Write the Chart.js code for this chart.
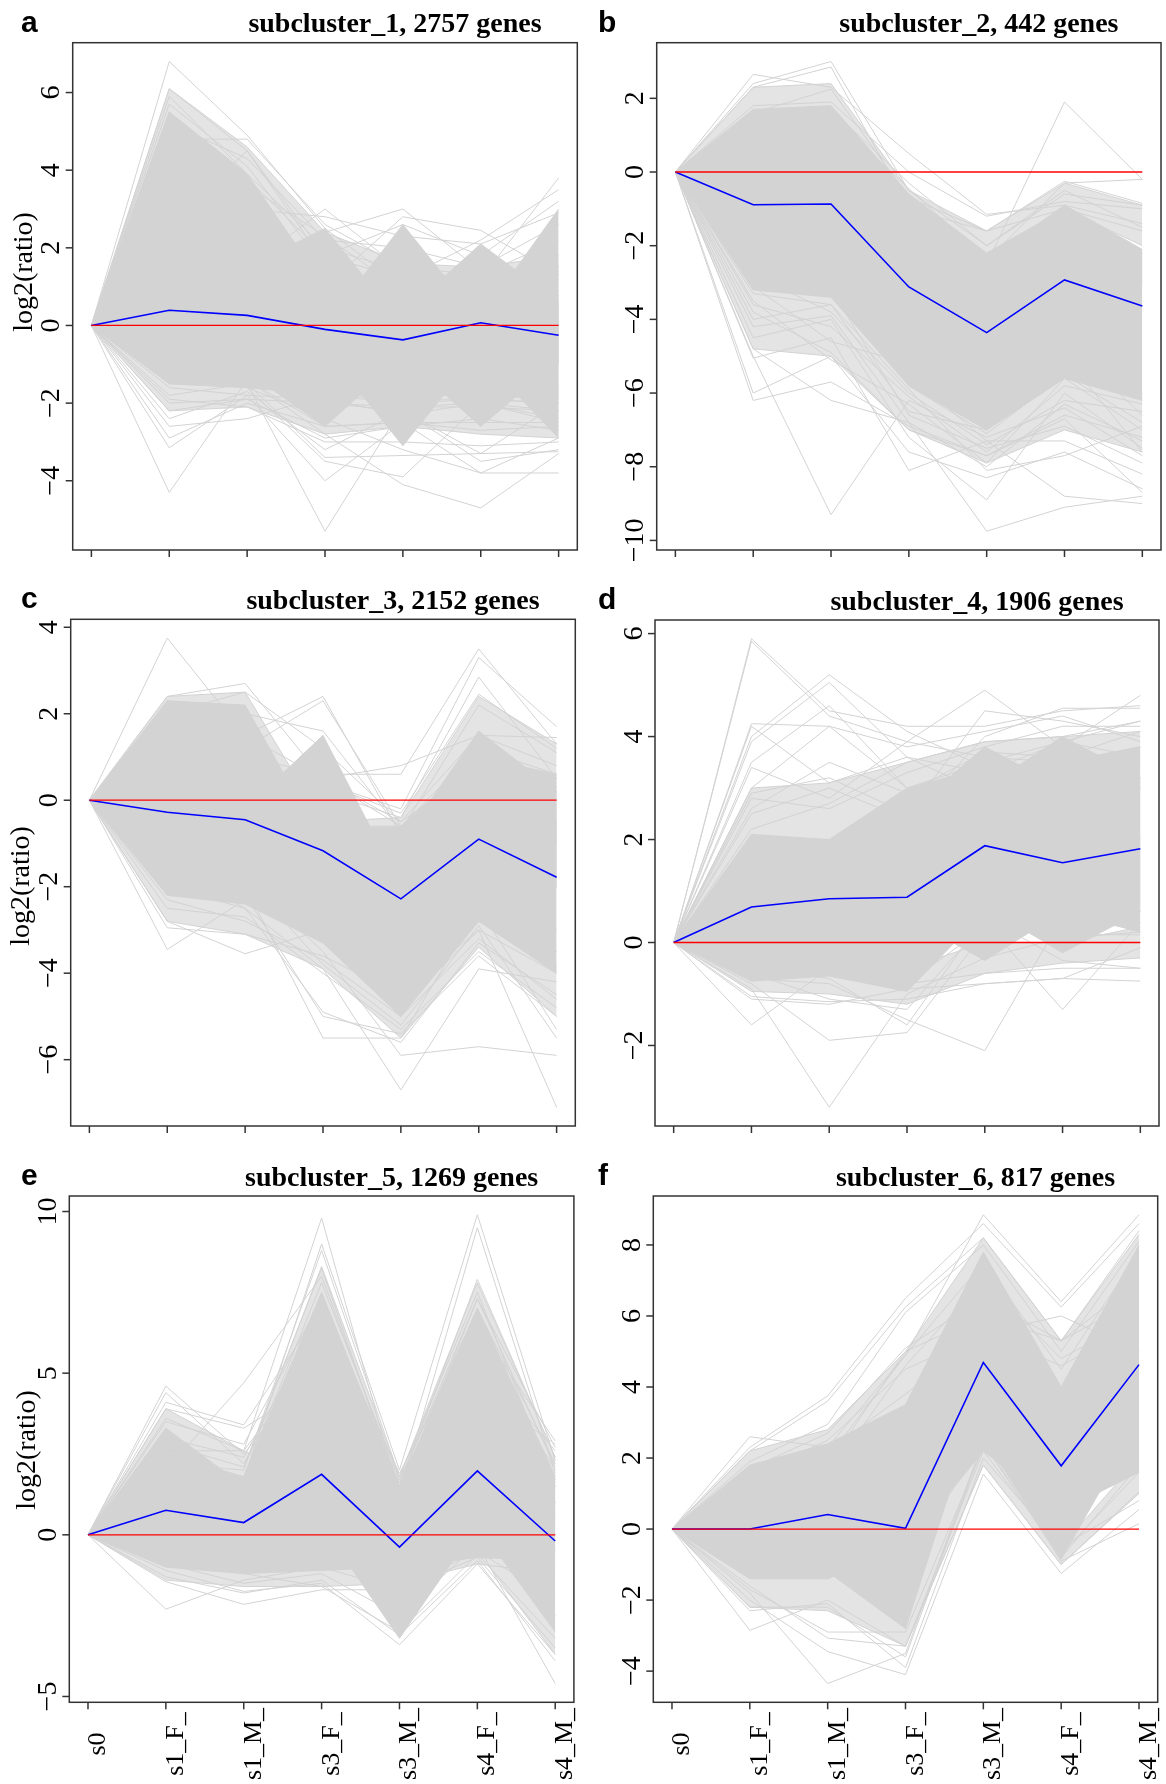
<!DOCTYPE html>
<html>
<head>
<meta charset="utf-8">
<script src="https://cdn.jsdelivr.net/npm/chart.js@4.4.1/dist/chart.umd.min.js"></script>
<style>
  body { margin: 0; background: #fff; width: 1166px; height: 1784px; position: relative; overflow: hidden; }
  canvas { position: absolute; }
</style>
</head>
<body>
<script>
// time points on the x axis
const stages = ['s0', 's1_F_', 's1_M_', 's3_F_', 's3_M_', 's4_F_', 's4_M_'];
const zeroLine = [0, 0, 0, 0, 0, 0, 0];
const titles = [
  'subcluster_1, 2757 genes', 'subcluster_2, 442 genes', 'subcluster_3, 2152 genes',
  'subcluster_4, 1906 genes', 'subcluster_5, 1269 genes', 'subcluster_6, 817 genes'
];

// --- subcluster 1 ---
const meanA = [0, 0.39, 0.26, -0.10, -0.37, 0.07, -0.25];
// solid bundles of genes: [upper edge, lower edge]
const bandsA = [
  [[0, 5.5, 3.9, 1.0, 0.6, 0.6, 0.8], [0, -1.5, -1.6, -1.8, -1.8, -1.8, -1.9]],
  [[0, 1.0, 1.5, 2.5, 0.0, 0.5, 0.5], [0, -1.0, -1.2, -2.6, -0.8, -1.0, -1.0]],
  [[0, 1.0, 1.0, 0.0, 2.6, 0.1, 0.5], [0, -1.0, -1.0, -0.6, -3.1, -0.6, -1.0]],
  [[0, 0.8, 0.8, 0.5, 0.3, 2.1, 0.6], [0, -1.0, -1.0, -1.0, -0.8, -2.6, -0.9]],
  [[0, 0.8, 0.8, 0.6, 0.6, 0.2, 3.0], [0, -1.0, -1.0, -1.0, -1.0, -0.8, -2.9]]
];
// looser zones where single lines still leave gaps
const looseA = [
  [[0, 6.1, 4.6, 2.4, 1.6, 1.5, 1.8], [0, 4.0, 3.0, 1.0, 0.5, 0.5, 0.5]],
  [[0, -1.0, -1.0, -1.5, -1.5, -1.5, -1.5], [0, -2.2, -2.1, -2.8, -2.6, -2.8, -2.9]]
];
// single genes sticking out of the bundle
const linesA = [
  [0, 6.8, 4.9, 2.5, 1.0, 1.2, 1.5],
  [0, 6.1, 4.5, 1.8, 1.2, 1.1, 1.2],
  [0, 5.9, 3.9, 2.0, 1.4, 1.0, 1.3],
  [0, 5.7, 4.1, 1.5, 1.0, 0.9, 1.0],
  [0, 5.5, 3.6, 2.3, 0.9, 1.3, 1.1],
  [0, 5.2, 4.3, 2.2, 2.0, 1.5, 2.6],
  [0, 5.0, 3.0, 2.8, 2.3, 2.1, 2.9],
  [0, 4.5, 3.8, 1.8, 2.6, 1.8, 3.2],
  [0, 2.6, 4.5, 1.6, 0.8, 0.7, 0.9],
  [0, 4.8, 4.8, 2.6, 1.5, 1.3, 2.2],
  [0, 1.5, 1.5, 3.0, 1.4, 1.2, 1.5],
  [0, 1.0, 1.2, 2.4, 3.0, 1.4, 1.4],
  [0, 0.8, 0.8, 1.0, 2.8, 2.45, 1.3],
  [0, 1.0, 0.9, 0.8, 1.0, 1.2, 3.8],
  [0, 0.6, 0.7, 0.8, 1.2, 2.2, 3.5],
  [0, -4.3, -1.4, -1.8, -2.0, -1.9, -2.0],
  [0, -3.15, -1.8, -1.9, -2.3, -2.0, -2.4],
  [0, -2.9, -2.0, -2.6, -2.5, -2.7, -2.6],
  [0, -2.6, -2.4, -1.8, -1.9, -1.9, -2.0],
  [0, -2.2, -1.9, -2.0, -2.1, -2.1, -2.2],
  [0, -2.0, -1.9, -2.9, -2.6, -2.4, -2.7],
  [0, -1.9, -2.1, -3.0, -3.0, -3.1, -3.0],
  [0, -2.4, -1.7, -3.2, -2.2, -3.3, -2.0],
  [0, -1.8, -1.5, -5.3, -2.1, -2.0, -2.2],
  [0, -1.6, -1.8, -4.0, -2.5, -3.8, -2.9],
  [0, -1.5, -1.6, -3.5, -3.9, -2.0, -2.5],
  [0, -1.3, -1.4, -2.8, -4.1, -4.7, -3.3],
  [0, -1.5, -1.5, -3.4, -3.35, -3.3, -3.25],
  [0, -1.2, -1.4, -2.6, -2.5, -2.5, -2.5],
  [0, -1.4, -1.6, -2.4, -3.2, -3.8, -3.8],
  [0, -1.2, -1.3, -2.0, -2.2, -3.5, -3.2]
];
const ticksA = [-4, -2, 0, 2, 4, 6];

// --- subcluster 2 ---
const meanB = [0, -0.89, -0.87, -3.12, -4.36, -2.93, -3.64];
const bandsB = [
  [[0, 1.0, 1.3, -0.8, -2.4, -0.9, -2.1], [0, -3.2, -3.4, -5.8, -7.0, -5.6, -6.2]],
  [[0, 1.7, 1.8, -0.6, -2.2, -1.0, -2.2], [0, 0.2, 0.2, -1.2, -3.0, -2.0, -3.0]]
];
const looseB = [
  [[0, 2.3, 2.4, -0.5, -1.6, -0.3, -0.9], [0, 1.0, 1.2, -1.0, -2.4, -1.0, -2.0]],
  [[0, -3.1, -3.3, -5.7, -6.9, -5.5, -6.0], [0, -4.8, -5.0, -7.0, -7.9, -7.0, -7.6]]
];
const linesB = [
  [0, 2.65, 2.3, 0.5, -1.15, -0.9, -1.4],
  [0, 2.4, 3.0, -0.5, -2.0, -0.5, -1.5],
  [0, 2.3, 2.85, -1.0, -2.6, -1.2, -2.5],
  [0, 1.6, 2.25, -0.7, -1.6, -0.25, -0.85],
  [0, 1.3, 1.5, -0.45, -2.4, -0.3, -0.2],
  [0, 0.8, 1.0, -1.2, -2.5, 1.9, -0.2],
  [0, 1.2, 0.5, -1.0, -1.6, -1.0, -1.6],
  [0, 1.8, 1.9, 0.0, -1.2, -0.8, -1.0],
  [0, 1.5, 1.7, -0.3, -2.0, -0.6, -0.9],
  [0, -6.2, -5.7, -6.9, -7.7, -6.6, -7.2],
  [0, -6.0, -5.0, -7.6, -8.3, -7.6, -8.6],
  [0, -5.0, -9.3, -6.2, -7.2, -6.4, -7.7],
  [0, -5.05, -4.5, -8.1, -7.3, -8.8, -9.0],
  [0, -4.8, -6.2, -6.8, -9.75, -9.1, -8.8],
  [0, -4.5, -4.0, -7.2, -8.9, -6.0, -7.5],
  [0, -4.0, -3.6, -5.9, -8.1, -7.7, -6.9],
  [0, -3.8, -4.9, -7.0, -7.7, -6.7, -8.7],
  [0, -3.5, -5.1, -6.3, -7.9, -5.6, -7.0],
  [0, -2.8, -3.8, -6.0, -7.4, -6.2, -6.5],
  [0, -3.3, -3.6, -6.5, -7.0, -5.0, -7.6],
  [0, -3.6, -4.2, -6.1, -7.6, -5.8, -6.3],
  [0, -2.5, -3.0, -5.8, -7.1, -5.5, -6.8],
  [0, -3.0, -3.2, -6.6, -7.5, -6.9, -7.9],
  [0, -2.7, -2.9, -5.5, -7.3, -7.3, -8.2],
  [0, -4.2, -3.9, -6.8, -8.0, -6.3, -7.3],
  [0, -3.1, -4.6, -5.2, -6.5, -4.6, -6.6]
];
const ticksB = [-10, -8, -6, -4, -2, 0, 2];

// --- subcluster 3 ---
const meanC = [0, -0.28, -0.45, -1.17, -2.28, -0.9, -1.78];
const bandsC = [
  [[0, 1.4, 1.5, -0.6, -0.6, 1.0, 0.6], [0, -2.2, -2.4, -3.3, -5.0, -2.8, -4.0]],
  [[0, 2.3, 2.2, -1.0, -1.2, 0.5, 0.3], [0, 0, 0, -1.5, -2.0, -1.0, -1.0]],
  [[0, 0.5, -0.2, 1.5, -2.0, -0.5, -0.5], [0, -1.5, -1.5, -2.0, -3.0, -2.0, -2.0]],
  [[0, -0.5, -0.5, -0.8, -1.0, 1.6, 0.2], [0, -1.5, -1.5, -2.0, -2.5, -1.5, -2.0]]
];
const looseC = [
  [[0, 2.4, 2.5, -0.5, -0.4, 2.4, 1.3], [0, 1.0, 1.0, -0.8, -0.8, 0.5, 0.3]],
  [[0, -2.0, -2.2, -3.2, -4.8, -2.8, -3.8], [0, -2.8, -3.1, -3.9, -5.5, -3.4, -5.0]]
];
const linesC = [
  [0, 3.75, 1.5, 0.5, -0.5, 0.8, 0.3],
  [0, 2.4, 2.7, 0.5, -0.6, 1.0, 0.5],
  [0, 2.0, 2.5, 1.2, -0.5, 1.5, 0.8],
  [0, 2.2, 2.0, 1.6, -0.7, 2.2, 1.1],
  [0, 1.0, 1.5, 2.4, -0.8, 0.9, 0.4],
  [0, 0.8, 1.2, 2.3, -0.6, 1.2, 0.6],
  [0, 0.5, 0.7, 0.5, 0.8, 1.5, 1.45],
  [0, 0.8, 1.0, 0.6, 0.6, 3.5, 1.3],
  [0, 0.5, 0.5, 0.4, -0.2, 3.3, 1.7],
  [0, 0.3, 0.5, 0.2, -0.4, 2.85, 0.5],
  [0, 0.6, 0.8, 0.4, -0.3, 2.45, 1.2],
  [0, -3.45, -2.3, -3.0, -4.0, -2.5, -3.0],
  [0, -2.95, -3.1, -3.6, -4.5, -2.8, -3.5],
  [0, -2.8, -3.55, -3.0, -4.8, -3.0, -4.0],
  [0, -2.5, -2.7, -4.0, -5.3, -3.5, -4.8],
  [0, -2.3, -2.8, -3.7, -5.0, -3.2, -4.6],
  [0, -2.0, -2.5, -4.9, -5.6, -3.3, -4.5],
  [0, -1.8, -2.2, -5.0, -5.4, -3.6, -5.0],
  [0, -1.5, -2.0, -5.5, -5.5, -2.5, -5.3],
  [0, -1.5, -2.5, -3.9, -6.7, -3.9, -4.2],
  [0, -1.2, -1.8, -3.5, -5.9, -5.7, -5.9],
  [0, -1.0, -1.5, -3.0, -4.5, -3.0, -7.1],
  [0, -1.3, -1.8, -3.8, -5.2, -2.9, -5.5]
];
const ticksC = [-6, -4, -2, 0, 2, 4];

// --- subcluster 4 ---
const meanD = [0, 0.69, 0.85, 0.88, 1.88, 1.55, 1.82];
const bandsD = [
  [[0, 2.1, 2.0, 3.0, 3.4, 3.5, 3.8], [0, -0.5, -0.4, -0.5, 0.5, 0.6, 0.2]],
  [[0, 1.0, 1.0, 1.0, 2.0, 2.0, 2.0], [0, -0.75, -0.65, -0.95, 0.6, 0.8, 0.8]],
  [[0, 1.5, 1.5, 2.5, 3.8, 3.0, 3.2], [0, 0.3, 0.3, 0.5, -0.35, 0.6, 0.6]],
  [[0, 1.5, 1.5, 2.5, 3.0, 4.0, 3.2], [0, 0.3, 0.3, 0.5, 0.7, -0.2, 0.6]]
];
const looseD = [
  [[0, 3.0, 3.1, 3.5, 3.9, 4.0, 4.1], [0, 1.8, 1.8, 2.5, 3.0, 3.0, 3.0]],
  [[0, -0.3, -0.3, -0.5, 0.0, 0.0, 0.3], [0, -0.95, -1.0, -1.2, -0.6, -0.4, -0.3]]
];
const linesD = [
  [0, 5.9, 4.5, 4.2, 4.2, 4.5, 4.6],
  [0, 5.85, 4.4, 3.9, 3.6, 3.5, 3.8],
  [0, 4.25, 4.2, 3.0, 2.5, 3.0, 3.2],
  [0, 4.0, 5.2, 4.1, 3.4, 3.2, 3.5],
  [0, 3.9, 5.05, 3.6, 2.9, 3.3, 3.0],
  [0, 3.5, 4.6, 3.0, 3.5, 3.9, 4.3],
  [0, 3.4, 2.8, 3.9, 4.9, 3.8, 4.8],
  [0, 2.9, 3.2, 2.5, 4.5, 4.3, 4.0],
  [0, 2.5, 3.0, 2.4, 4.0, 4.55, 4.55],
  [0, 2.2, 2.7, 3.5, 3.9, 4.0, 4.3],
  [0, 2.8, 2.6, 3.3, 3.8, 4.2, 4.2],
  [0, 2.6, 3.5, 2.9, 3.7, 3.6, 4.1],
  [0, 4.2, 3.1, 3.6, 3.3, 3.9, 3.6],
  [0, 3.0, 4.2, 3.8, 4.1, 4.4, 3.9],
  [0, -1.6, -0.5, -0.8, -0.6, -0.5, -0.5],
  [0, -1.1, -1.2, -0.9, -0.8, -0.7, -0.75],
  [0, -0.9, -3.2, -1.0, -0.3, 0.1, 0.2],
  [0, -0.8, -1.9, -1.75, 0.2, 0.5, 0.5],
  [0, -0.7, -0.8, -1.5, -2.1, 0.5, 0.6],
  [0, -0.6, -1.1, -1.3, 0.4, -1.3, 0.4],
  [0, -0.5, -0.7, -1.6, 0.5, -0.35, -0.5],
  [0, -0.4, -0.5, -0.8, 0.3, 0.15, 0.15],
  [0, -1.05, -1.15, -1.1, -0.8, -0.7, -0.1]
];
const ticksD = [-2, 0, 2, 4, 6];

// --- subcluster 5 ---
const meanE = [0, 0.76, 0.38, 1.87, -0.38, 1.98, -0.19];
const bandsE = [
  [[0, 2.5, 1.8, 6.0, 1.4, 6.3, 1.6], [0, -1.0, -1.2, -1.1, -1.0, -0.7, -0.8]],
  [[0, 3.3, 1.5, 4.0, 1.0, 4.0, 1.0], [0, 0, 0, 0, 0, 0, 0]],
  [[0, 1.5, 1.8, 7.5, 1.5, 7.0, 1.8], [0, 0.5, 0.5, 3.0, 0.5, 3.0, 0.5]],
  [[0, 1.0, 1.0, 2.0, 1.0, 2.0, 1.0], [0, -0.5, -0.5, 0.3, -3.2, 0.3, -0.5]],
  [[0, 1.0, 1.0, 1.0, 1.0, 2.0, 1.8], [0, -0.5, -0.5, -0.5, -0.5, 0.3, -3.0]]
];
const looseE = [
  [[0, 3.9, 2.6, 1.5, 1.0, 1.5, 1.0], [0, 2.5, 1.5, 0.5, 0.5, 0.5, 0.5]],
  [[0, 1.5, 2.0, 8.3, 1.8, 7.8, 2.4], [0, 1.0, 1.0, 6.0, 1.0, 6.0, 1.0]],
  [[0, -0.5, -0.5, -0.5, -0.5, -0.5, -0.5], [0, -1.4, -1.6, -1.6, -1.5, -0.9, -1.2]],
  [[0, -0.5, -0.5, -0.5, -0.5, 0.0, -2.5], [0, -0.8, -0.8, -0.8, -0.8, -0.5, -3.7]]
];
const linesE = [
  [0, 4.6, 2.5, 5.5, 1.2, 5.0, 1.5],
  [0, 4.4, 2.2, 6.5, 1.5, 6.0, 2.0],
  [0, 4.1, 3.4, 7.0, 1.9, 6.5, 2.9],
  [0, 3.9, 3.3, 4.8, 1.6, 4.5, 2.8],
  [0, 3.6, 2.6, 5.8, 1.8, 5.5, 2.6],
  [0, 3.0, 2.4, 6.8, 1.6, 7.3, 2.1],
  [0, 3.5, 2.8, 7.3, 1.4, 6.8, 1.7],
  [0, 2.0, 4.7, 8.0, 1.5, 7.9, 2.4],
  [0, 2.6, 2.6, 9.8, 1.2, 9.5, 1.9],
  [0, 1.8, 1.7, 9.0, 2.0, 9.9, 2.3],
  [0, 2.2, 2.0, 8.8, 1.8, 7.5, 1.5],
  [0, 2.8, 2.1, 8.25, 1.3, 7.3, 2.7],
  [0, 1.5, 1.8, 7.8, 1.7, 7.0, 2.2],
  [0, -2.3, -1.4, -1.0, -1.7, -0.5, -2.0],
  [0, -1.45, -2.15, -1.7, -1.7, -0.7, -3.5],
  [0, -1.1, -1.75, -1.5, -3.4, -0.9, -3.7],
  [0, -1.3, -1.8, -1.4, -3.1, -0.8, -3.9],
  [0, -0.9, -1.5, -1.2, -2.5, -0.3, -4.6],
  [0, -0.8, -1.2, -1.6, -3.0, -0.6, -3.2]
];
const ticksE = [-5, 0, 5, 10];

// --- subcluster 6 ---
const meanF = [0, 0.0, 0.41, 0.02, 4.69, 1.78, 4.63];
const bandsF = [
  [[0, 1.5, 2.0, 2.5, 7.0, 3.5, 7.5], [0, -1.4, -1.4, -0.5, 2.2, 0.5, 1.6]],
  [[0, 1.8, 2.4, 3.5, 7.8, 4.0, 8.0], [0, 0.5, 1.0, 1.5, 4.5, 2.5, 4.5]],
  [[0, 0, 0, -0.5, 4.5, 1.5, 3.0], [0, -1.0, -1.2, -2.8, 4.0, 1.0, 2.5]],
  [[0, 0.5, 0.5, 0.5, 5.0, 1.5, 5.0], [0, 0, 0, 0, 2.6, -0.85, 3.0]]
];
const looseF = [
  [[0, 2.2, 2.8, 5.0, 8.2, 5.3, 8.3], [0, 1.0, 1.5, 2.5, 6.0, 3.0, 6.0]],
  [[0, -1.0, -1.0, -1.0, 2.5, -0.5, 2.0], [0, -2.2, -2.3, -3.3, 1.8, -1.0, 1.0]]
];
const linesF = [
  [0, 2.6, 2.3, 4.9, 8.85, 6.4, 8.85],
  [0, 2.3, 3.75, 6.5, 8.6, 6.25, 8.6],
  [0, 2.2, 3.6, 6.25, 8.2, 5.3, 8.4],
  [0, 1.9, 2.95, 6.1, 8.0, 5.0, 8.1],
  [0, 1.7, 2.7, 5.1, 6.5, 5.3, 7.0],
  [0, 1.5, 2.5, 4.5, 5.5, 6.0, 5.0],
  [0, 1.0, 2.0, 4.9, 7.5, 4.5, 7.8],
  [0, 1.2, 1.8, 5.0, 6.0, 5.3, 6.5],
  [0, 0.8, 1.5, 4.6, 7.0, 4.8, 6.0],
  [0, 1.4, 2.2, 3.8, 5.5, 4.6, 5.8],
  [0, -2.85, -2.0, -3.3, 1.8, -1.0, 1.05],
  [0, -2.3, -2.1, -3.9, 2.0, -0.5, 0.8],
  [0, -2.0, -3.45, -4.1, 1.55, -1.25, 0.55],
  [0, -1.8, -4.35, -3.5, 2.5, -0.9, 0.15],
  [0, -1.6, -3.07, -3.3, 2.2, -0.7, 1.6],
  [0, -1.7, -2.9, -2.9, 2.3, 0.1, 2.0],
  [0, -2.2, -2.2, -3.6, 2.4, -0.8, 1.8]
];
const ticksF = [-4, -2, 0, 2, 4, 6, 8];

const GRAY = '#d3d3d3';
const LOOSE = '#e4e4e4';

// page layout of the six panels (box = plot frame in page pixels)
const panels = [
  { letter: 'a', title: titles[0], mean: meanA, bands: bandsA, loose: looseA, lines: linesA, ticks: ticksA,
    left: 0, top: 0, w: 583, h: 570, box: [72.7, 42.7, 577.3, 550], ylab: [25, 272], letterX: 21, xlabels: false },
  { letter: 'b', title: titles[1], mean: meanB, bands: bandsB, loose: looseB, lines: linesB, ticks: ticksB,
    left: 583, top: 0, w: 583, h: 570, box: [656.7, 42.7, 1161, 550], ylab: null, letterX: 598, xlabels: false },
  { letter: 'c', title: titles[2], mean: meanC, bands: bandsC, loose: looseC, lines: linesC, ticks: ticksC,
    left: 0, top: 570, w: 583, h: 570, box: [70.7, 619.3, 575.3, 1126], ylab: [22, 886], letterX: 21, xlabels: false },
  { letter: 'd', title: titles[3], mean: meanD, bands: bandsD, loose: looseD, lines: linesD, ticks: ticksD,
    left: 583, top: 570, w: 583, h: 570, box: [655, 620, 1159, 1126], ylab: null, letterX: 598, xlabels: false },
  { letter: 'e', title: titles[4], mean: meanE, bands: bandsE, loose: looseE, lines: linesE, ticks: ticksE,
    left: 0, top: 1140, w: 583, h: 644, box: [69.3, 1196, 573.9, 1702.3], ylab: [28, 1450], letterX: 21, xlabels: true },
  { letter: 'f', title: titles[5], mean: meanF, bands: bandsF, loose: looseF, lines: linesF, ticks: ticksF,
    left: 583, top: 1140, w: 583, h: 644, box: [653.3, 1196, 1157.7, 1702.3], ylab: null, letterX: 598, xlabels: true }
];

const fmt = t => (t < 0 ? '\u2212' + Math.abs(t) : String(t));
const pts = arr => arr.map((v, i) => ({ x: i + 1, y: v }));

// frame, ticks and texts drawn the way R's plot() lays them out
function rFrame(p) {
  return {
    id: 'rFrame',
    afterDraw(chart) {
      const { ctx, chartArea: a, scales: { x, y } } = chart;
      ctx.save();
      ctx.strokeStyle = '#333';
      ctx.lineWidth = 1.5;
      ctx.fillStyle = '#000';
      ctx.strokeRect(a.left, a.top, a.right - a.left, a.bottom - a.top);

      ctx.font = '28px "Liberation Serif", serif';
      ctx.textAlign = 'center';
      ctx.textBaseline = 'alphabetic';
      p.ticks.forEach(t => {
        const py = y.getPixelForValue(t);
        ctx.beginPath();
        ctx.moveTo(a.left - 7, py);
        ctx.lineTo(a.left, py);
        ctx.stroke();
        ctx.save();
        ctx.translate(a.left - 13.5, py);
        ctx.rotate(-Math.PI / 2);
        ctx.fillText(fmt(t), 0, 0);
        ctx.restore();
      });

      if (p.ylab) {
        ctx.save();
        ctx.translate(p.ylab[0] - p.left, p.ylab[1] - p.top);
        ctx.rotate(-Math.PI / 2);
        ctx.textBaseline = 'middle';
        ctx.fillText('log2(ratio)', 0, 0);
        ctx.restore();
      }

      ctx.font = '26px "Liberation Serif", serif';
      stages.forEach((s, i) => {
        const px = x.getPixelForValue(i + 1);
        ctx.beginPath();
        ctx.moveTo(px, a.bottom);
        ctx.lineTo(px, a.bottom + 7);
        ctx.stroke();
        if (p.xlabels) {
          ctx.save();
          ctx.translate(px + 17, 1744 - p.top);
          ctx.rotate(-Math.PI / 2);
          ctx.fillText(s, 0, 0);
          ctx.restore();
        }
      });

      ctx.font = 'bold 28px "Liberation Serif", serif';
      ctx.fillText(p.title, (a.left + a.right) / 2 + 70, a.top - 10.5);

      ctx.font = 'bold 30px "Liberation Sans", Arial, sans-serif';
      ctx.textAlign = 'left';
      ctx.fillText(p.letter, p.letterX - p.left, a.top - 11);
      ctx.restore();
    }
  };
}

panels.forEach(p => {
  const cv = document.createElement('canvas');
  cv.width = p.w;
  cv.height = p.h;
  cv.style.left = p.left + 'px';
  cv.style.top = p.top + 'px';
  cv.style.width = p.w + 'px';
  cv.style.height = p.h + 'px';
  document.body.appendChild(cv);

  const all = [p.mean, ...p.lines, ...p.bands.flat()].flat();
  const lo = Math.min(...all), hi = Math.max(...all);
  const pad = (hi - lo) * 0.04;

  // first dataset is painted last, so red and blue go first
  const datasets = [
    { data: pts(zeroLine), borderColor: '#ff0000', borderWidth: 1.3 },
    { data: pts(p.mean), borderColor: '#0000ff', borderWidth: 1.6 }
  ];
  p.lines.forEach(l => datasets.push({ data: pts(l), borderColor: GRAY, borderWidth: 1 }));
  const addBand = ([top, bottom], color) => {
    datasets.push({ data: pts(top), borderColor: GRAY, borderWidth: 1, fill: false });
    datasets.push({ data: pts(bottom), borderColor: GRAY, borderWidth: 1, fill: '-1', backgroundColor: color });
  };
  p.bands.forEach(b => addBand(b, GRAY));
  p.loose.forEach(b => addBand(b, LOOSE));

  new Chart(cv.getContext('2d'), {
    type: 'line',
    data: { datasets },
    options: {
      responsive: false,
      animation: false,
      events: [],
      elements: { point: { radius: 0 }, line: { tension: 0, fill: false } },
      layout: {
        padding: {
          left: p.box[0] - p.left,
          top: p.box[1] - p.top,
          right: p.left + p.w - p.box[2],
          bottom: p.top + p.h - p.box[3]
        }
      },
      plugins: { legend: { display: false }, tooltip: { enabled: false } },
      scales: {
        x: { type: 'linear', min: 0.76, max: 7.24, display: false },
        y: { type: 'linear', min: lo - pad, max: hi + pad, display: false }
      }
    },
    plugins: [rFrame(p)]
  });
});
</script>
</body>
</html>
